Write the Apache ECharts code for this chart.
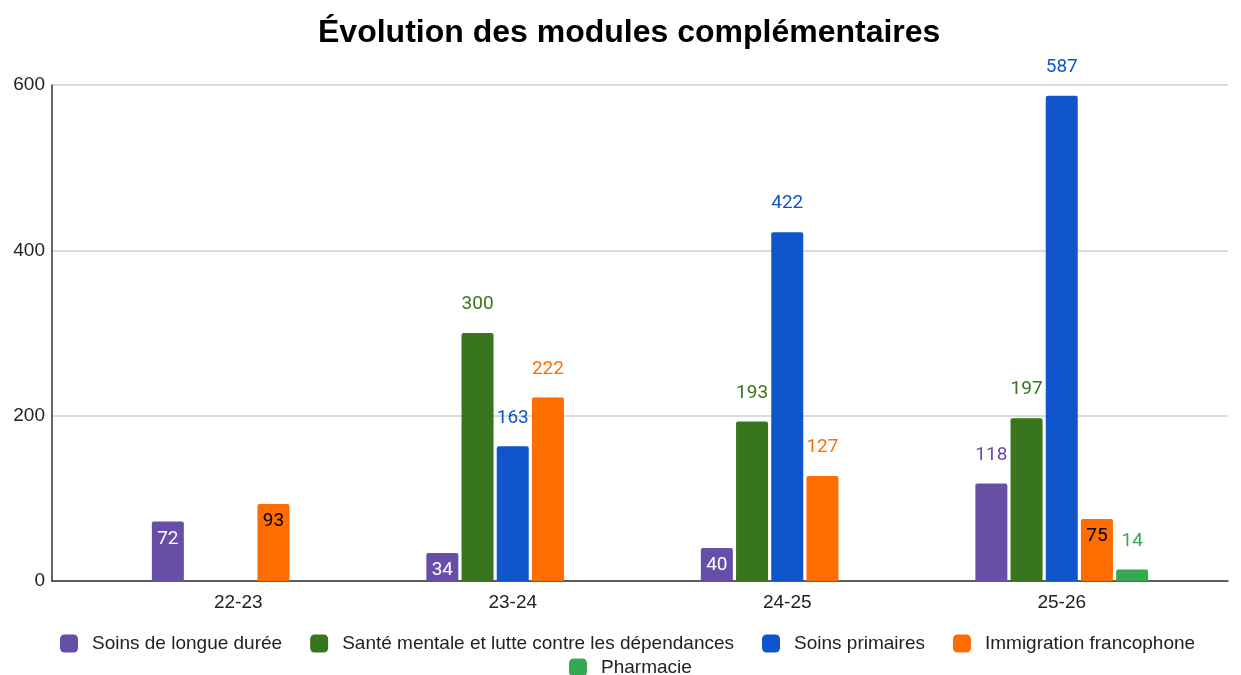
<!DOCTYPE html>
<html>
<head>
<meta charset="utf-8">
<script src="https://cdn.jsdelivr.net/npm/echarts@6/dist/echarts.min.js"></script>
<style>
  html, body { margin: 0; padding: 0; background: #fff; }
  #chart { width: 1241px; height: 675px; }
</style>
</head>
<body>
<div id="chart"></div>
<script>
const categories = ['22-23', '23-24', '24-25', '25-26']
const seriesNames = [
  'Soins de longue durée',
  'Santé mentale et lutte contre les dépendances',
  'Soins primaires',
  'Immigration francophone',
  'Pharmacie',
]
const longueDuree = [72, 34, 40, 118]
const santeMentale = [null, 300, 193, 197]
const soinsPrimaires = [null, 163, 422, 587]
const immigration = [93, 222, 127, 75]
const pharmacie = [null, null, null, 14]
const yTicks = [0, 200, 400, 600]

const colors = ['#674ea7', '#38761d', '#1155cc', '#ff6d01', '#34a853']
// label colour when the value sits inside the bar (null = always above)
const insideColors = ['#ffffff', null, null, '#000000', null]
const values = [longueDuree, santeMentale, soinsPrimaires, immigration, pharmacie]

const font = '"Liberation Sans", Arial, sans-serif'
const labelFont = 'Roboto, "Liberation Sans", sans-serif'

function buildData(vals, i) {
  return vals.map(v => {
    if (v == null) return '-'
    if (insideColors[i] && v < 100) {
      return {
        value: v,
        label: { position: 'insideTop', distance: 8, color: insideColors[i] },
      }
    }
    return v
  })
}

const chart = echarts.init(document.getElementById('chart'))

chart.setOption({
  animation: false,
  title: {
    text: 'Évolution des modules complémentaires',
    left: 313,
    top: 12,
    textStyle: { fontFamily: font, fontSize: 32, fontWeight: 'bold', color: '#000' },
  },
  legend: [
    {
      data: seriesNames.slice(0, 4),
      top: 629,
      left: 55,
      itemWidth: 18,
      itemHeight: 18,
      itemGap: 28,
      icon: 'roundRect',
      textStyle: { fontFamily: font, fontSize: 19, color: '#222', padding: [0, 0, 0, 9] },
    },
    {
      data: seriesNames.slice(4),
      top: 653,
      left: 564,
      itemWidth: 18,
      itemHeight: 18,
      icon: 'roundRect',
      textStyle: { fontFamily: font, fontSize: 19, color: '#222', padding: [0, 0, 0, 9] },
    },
  ],
  grid: [
    { left: 52, right: 13, top: 85, bottom: 94 },
    { left: 101, right: 42, top: 85, bottom: 94 },
  ],
  xAxis: [
    {
      gridIndex: 0,
      type: 'value',
      min: 0,
      max: 1,
      axisLine: { show: true, lineStyle: { color: '#333', width: 1.5 } },
      axisTick: { show: false },
      axisLabel: { show: false },
      splitLine: { show: false },
    },
    {
      gridIndex: 1,
      type: 'category',
      data: categories,
      axisLine: { show: false },
      axisTick: { show: false },
      axisLabel: { fontFamily: font, fontSize: 19, color: '#222', margin: 12 },
    },
  ],
  yAxis: [
    {
      gridIndex: 0,
      type: 'value',
      min: yTicks[0],
      max: yTicks[yTicks.length - 1],
      interval: 200,
      axisLine: { show: true, lineStyle: { color: '#333', width: 1.5 } },
      axisTick: { show: false },
      axisLabel: { fontFamily: font, fontSize: 19, color: '#222', margin: 7 },
      splitLine: { lineStyle: { color: '#d0d0d0', width: 1.5 } },
    },
    {
      gridIndex: 1,
      type: 'value',
      min: yTicks[0],
      max: yTicks[yTicks.length - 1],
      show: false,
      splitLine: { show: false },
    },
  ],
  series: seriesNames.map((name, i) => ({
    name,
    type: 'bar',
    xAxisIndex: 1,
    yAxisIndex: 1,
    barWidth: 32,
    barGap: '10%',
    z: 3,
    itemStyle: { color: colors[i], borderRadius: [2, 2, 0, 0] },
    label: {
      show: true,
      position: 'top',
      distance: 19,
      color: colors[i],
      fontFamily: labelFont,
      fontSize: 19,
    },
    data: buildData(values[i], i),
  })),
})
</script>
</body>
</html>
